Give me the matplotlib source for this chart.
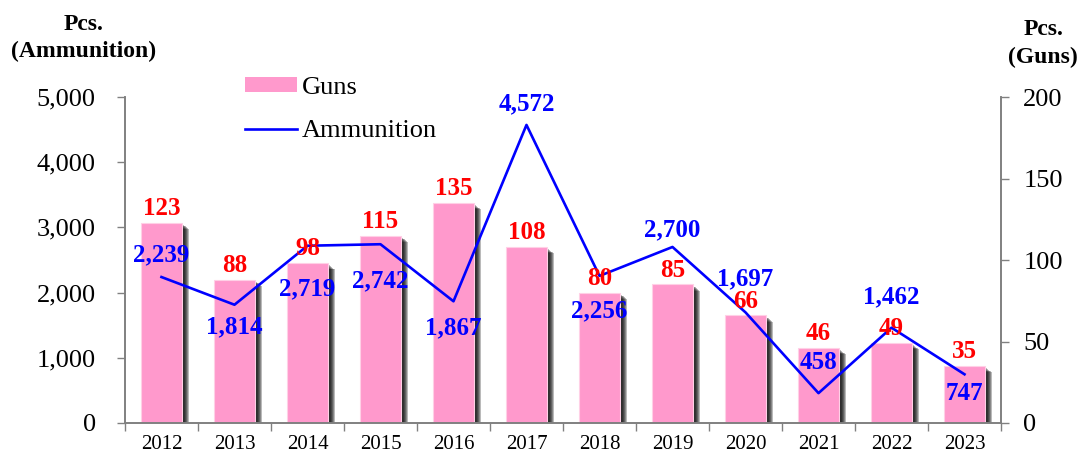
import matplotlib
matplotlib.use("Agg")
import matplotlib.pyplot as plt
import matplotlib.patheffects as pe
from matplotlib.patches import Patch
from matplotlib.lines import Line2D
from matplotlib.ticker import FuncFormatter, FixedLocator
import numpy as np

years = ["2012", "2013", "2014", "2015", "2016", "2017", "2018", "2019", "2020", "2021", "2022", "2023"]
guns = [123, 88, 98, 115, 135, 108, 80, 85, 66, 46, 49, 35]
ammunition = [2239, 1814, 2719, 2742, 1867, 4572, 2256, 2700, 1697, 458, 1462, 747]
# vertical offset of ammunition labels (points; + above, - below)
ammo_label_dy = [16, -16, -31, -26, -19, 15, -25, 12, 24, 22, 22, -14]

plt.rcParams['font.family'] = ['Liberation Serif', 'DejaVu Serif']

fig = plt.figure(figsize=(10.81, 4.57), dpi=100)
ax_l = fig.add_axes([0.1156, 0.0744, 0.8104, 0.7133])
ax_r = ax_l.twinx()

x = np.arange(len(years))
gray = '#808080'
pink = '#FF99CC'

ax_r.set_zorder(1)
ax_l.set_zorder(2)
ax_l.patch.set_visible(False)

# soft (blurred-looking) shadow built from several faint offset copies
shadow = [pe.SimplePatchShadow(offset=(dx, -dx * 0.8), shadow_rgbFace='black', alpha=0.27)
          for dx in (5.5, 4.8, 4.1, 3.4, 2.7, 2.0, 1.3)]
bars = ax_r.bar(x, guns, width=0.55, color=pink, edgecolor='#FFD0E6', linewidth=0.8, zorder=2,
                path_effects=shadow + [pe.Normal()])
ax_r.set_ylim(0, 200)
ax_r.set_yticks([0, 50, 100, 150, 200])

for xi, g in zip(x, guns):
    ax_l.annotate(str(g), xy=(xi, g * 25), xytext=(0, 2), textcoords='offset points',
                  ha='center', va='bottom', color='#FF0000', fontsize=18, fontweight='bold', zorder=5)

line, = ax_l.plot(x, ammunition, color='#0000FF', lw=1.9, zorder=4)
ax_l.set_ylim(0, 5000)
ax_l.set_yticks(range(0, 5001, 1000))
ax_l.yaxis.set_major_formatter(FuncFormatter(lambda v, p: f"{int(v):,}"))

for xi, a, dy in zip(x, ammunition, ammo_label_dy):
    ax_l.annotate(f"{a:,}", xy=(xi, a), xytext=(0, dy), textcoords='offset points',
                  ha='center', va='center', color='#0000FF', fontsize=18, fontweight='bold', zorder=6)

ax_l.set_xlim(-0.5, len(years) - 0.5)
ax_l.set_xticks(x)
ax_l.set_xticklabels(years)
ax_l.xaxis.set_minor_locator(FixedLocator(np.arange(-0.5, len(years), 1.0)))
ax_l.tick_params(axis='x', which='major', length=0, labelsize=15, pad=9)
ax_l.tick_params(axis='x', which='minor', length=6, color=gray, width=1)
ax_l.tick_params(axis='y', which='major', length=6, color=gray, width=1, labelsize=19, pad=15)
ax_r.tick_params(axis='y', which='major', length=6, color=gray, width=1, labelsize=19, pad=10)

for a in (ax_l, ax_r):
    a.spines['top'].set_visible(False)
    for s in ('left', 'right', 'bottom'):
        a.spines[s].set_color(gray)
        a.spines[s].set_linewidth(1.2)

fig.text(0.077, 0.917, "Pcs.\n(Ammunition)", ha='center', va='center', fontsize=17,
         fontweight='bold', linespacing=1.4)
fig.text(0.965, 0.905, "Pcs.\n(Guns)", ha='center', va='center', fontsize=17,
         fontweight='bold', linespacing=1.4)

gun_handle = Patch(facecolor=pink, edgecolor='none')
ammo_handle = Line2D([], [], color='#0000FF', lw=1.9)
fig.legend([gun_handle, ammo_handle], ["Guns", "Ammunition"], loc='upper left',
           bbox_to_anchor=(0.227, 0.832), frameon=False, fontsize=19,
           handlelength=1.95, handleheight=0.5, handletextpad=0.2, labelspacing=0.82,
           borderaxespad=0, borderpad=0)

fig.savefig("out.png", dpi=100)
